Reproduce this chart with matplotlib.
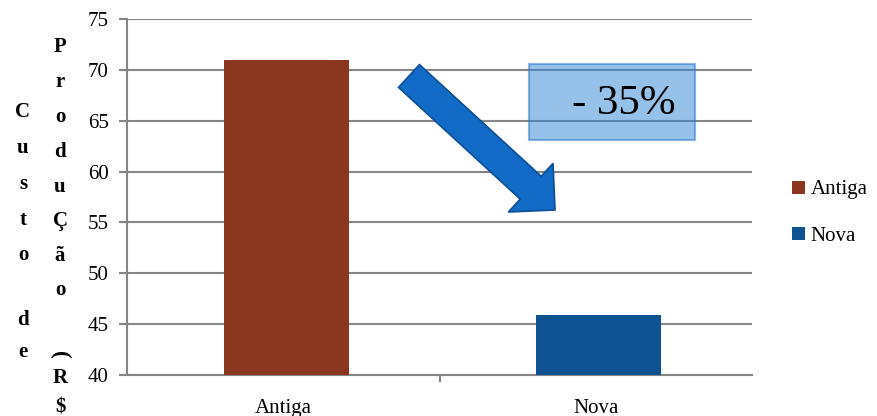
import numpy as np
import matplotlib.pyplot as plt
from matplotlib.patches import Polygon, Rectangle

categories = ["Antiga", "Nova"]
custo = [71.0, 45.9]
cores = ["#8B361E", "#0E5292"]
reducao = "- 35%"

plt.rcParams['font.family'] = ['Liberation Serif', 'DejaVu Serif']

W, H = 877, 416
fig = plt.figure(figsize=(W / 100, H / 100), dpi=100)
ax = fig.add_axes([127 / W, 1 - 375 / H, 625 / W, 356 / H])

x = np.arange(len(categories))
for xi, v, c, lab in zip(x, custo, cores, categories):
    ax.bar(xi + 0.01, v - 40, bottom=40, width=0.4, color=c, label=lab, zorder=3)

ax.set_xlim(-0.5, 1.5)
ax.set_ylim(40, 75)
ax.set_yticks(np.arange(40, 76, 5))
ax.set_xticks(x)
ax.set_xticklabels(categories, fontsize=15)
ax.set_xticks([0.5], minor=True)
ax.tick_params(axis='x', which='major', length=0, pad=17)
ax.tick_params(axis='x', which='minor', length=5, color='#868686', width=1.5)
ax.tick_params(axis='y', length=6, color='#868686', width=1.5, labelsize=15, pad=7)
ax.yaxis.grid(True, color='#868686', linewidth=1.5, zorder=0)
for s in ['top', 'right']:
    ax.spines[s].set_visible(False)
for s in ['left', 'bottom']:
    ax.spines[s].set_color('#868686')
    ax.spines[s].set_linewidth(1.5)

leg = ax.legend(loc='center left', bbox_to_anchor=(1.034, 0.455), frameon=False,
                fontsize=15, handlelength=0.6, handleheight=0.6, handletextpad=0.3,
                labelspacing=1.3)

# ylabel written as stacked letters (two columns)
col1 = [("C", 112), ("u", 148), ("s", 184), ("t", 220), ("o", 255), ("d", 320), ("e", 352)]
col2 = [("P", 47), ("r", 82), ("o", 117), ("d", 152), ("u", 187), ("Ç", 221), ("ã", 256),
        ("o", 290), ("R", 378), ("$", 407)]
for ch, yy in col1:
    fig.text(23 / W, 1 - yy / H, ch, fontsize=15, fontweight='bold', ha='center', va='center')
for ch, yy in col2:
    fig.text(60 / W, 1 - yy / H, ch, fontsize=15, fontweight='bold', ha='center', va='center')
fig.text(60 / W, 1 - 355 / H, "(", fontsize=17, fontweight='bold', ha='center', va='center',
         rotation=-90)

# "- 35%" box
box = Rectangle((529 / W, 1 - 140 / H), 166 / W, 76 / H, transform=fig.transFigure,
                facecolor='#2F86D6', alpha=0.5, edgecolor='#1F6FC8', linewidth=1.5)
fig.patches.append(box)
fig.text(624 / W, 1 - 104 / H, reducao, fontsize=31, ha='center', va='center')

# block arrow (pixel coords, converted to figure fraction)
tail = np.array([409.0, 76.0])
tip = np.array([555.0, 210.0])
d = (tip - tail) / np.linalg.norm(tip - tail)
n = np.array([-d[1], d[0]])
w, hw, hl = 31.0, 66.0, 33.0
base = tip - d * hl
pts = [tail + n * w / 2, base + n * w / 2, base + n * hw / 2, tip,
       base - n * hw / 2, base - n * w / 2, tail - n * w / 2]
pts = np.array([[p[0] / W, 1 - p[1] / H] for p in pts])
arrow = Polygon(pts, closed=True, transform=fig.transFigure, facecolor='#116BC6',
                edgecolor='#0D4F94', linewidth=1.2)
fig.patches.append(arrow)

fig.savefig('out.png', dpi=100)
